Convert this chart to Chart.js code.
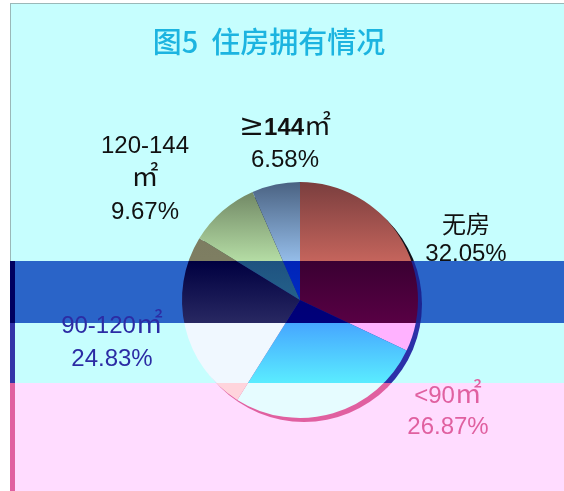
<!DOCTYPE html>
<html>
<head>
<meta charset="utf-8">
<script src="https://cdn.jsdelivr.net/npm/chart.js@4/dist/chart.umd.min.js"></script>
<style>
  html, body { margin: 0; padding: 0; background: #fff; }
  #wrap { width: 564px; height: 491px; }
</style>
</head>
<body>
<div id="wrap"><canvas id="c" width="564" height="491"></canvas></div>
<script>
// data
const titleText = '图5  住房拥有情况';
const categories = ['无房', '<90㎡', '90-120㎡', '120-144㎡', '≥144㎡'];
const shares = [32.05, 26.87, 24.83, 9.67, 6.58];

// label lines as printed (the 120-144 one wraps before the unit)
const labelLines = [
  ['无房', '32.05%'],
  ['<90㎡', '26.87%'],
  ['90-120㎡', '24.83%'],
  ['120-144', '㎡', '9.67%'],
  ['≥144㎡', '6.58%']
];

// horizontal colour bands of the frame (y edges) and their fills
const bandY = [4, 261, 323, 383, 491];
const bandFill = ['#c6fefe', '#2a64c8', '#c6fefe', '#ffdcff'];
const stripFill = ['#9ab8b8', '#000060', '#3434a8', '#e060a0'];
const shadowFill = ['#101018', '#1c2490', '#2c30a8', '#e060a0'];

// per-slice colour for each band, [top, bottom] of the band
const sliceFill = [
  [['#7a3e3e', '#c4645c'], ['#3a0032', '#580044'], ['#ffb2ff', '#ffb2ff'], ['#ffd0ff', '#ffd0ff']],
  [['#000070', '#000070'], ['#000070', '#00007a'], ['#46a6ff', '#5aecff'], ['#e6fcff', '#e6fcff']],
  [['#7a7a60', '#7e7e62'], ['#000040', '#282862'], ['#f0f8ff', '#f0f8ff'], ['#ffd4dc', '#ffd4dc']],
  [['#687c5c', '#b4dca4'], ['#1e5280', '#286a90'], ['#f0f8ff', '#f0f8ff'], ['#ffd4dc', '#ffd4dc']],
  [['#4a6282', '#94bce8'], ['#0024b8', '#0030c8'], ['#f0f8ff', '#f0f8ff'], ['#ffd4dc', '#ffd4dc']]
];

const labelColor = ['#111', '#e060a0', '#2c2ca4', '#111', '#111'];
// label centre x, first baseline y and line step
const labelAt = [[466, 233, 28], [448, 403, 31], [112, 333, 33], [145, 153, 33], [285, 135, 32]];

const H = 491;
const PIE_TOP = 182;

const FONT_NUM = '24px "Liberation Sans", Arial, "DejaVu Sans", sans-serif';
const FONT_NUM_B = 'bold 24px "Liberation Sans", Arial, "DejaVu Sans", sans-serif';
const FONT_CJK = '24px "Noto Sans CJK SC", sans-serif';
const FONT_UNIT = '27px "Noto Sans CJK SC", sans-serif';
const FONT_GE = '30px "DejaVu Serif", serif';

function bandGradient(ctx, cols) {
  const g = ctx.createLinearGradient(0, 0, 0, H);
  for (let i = 0; i < cols.length; i++) {
    const y0 = i === 0 ? PIE_TOP : bandY[i];
    const y1 = bandY[i + 1] - 0.3;
    g.addColorStop(Math.max(0, y0 / H), cols[i][0]);
    g.addColorStop(Math.min(1, y1 / H), cols[i][1]);
  }
  return g;
}

// split a label line into runs so the unit and ≥ signs get their own font
function runsOf(t) {
  const bold = t.startsWith('≥');
  return t.split(/(㎡|≥)/).filter(s => s).map(s => {
    let font = bold ? FONT_NUM_B : FONT_NUM;
    if (s === '㎡') font = FONT_UNIT;
    else if (s === '≥') font = FONT_GE;
    else if (/[\u4e00-\u9fff]/.test(s)) font = FONT_CJK;
    return { s, font };
  });
}

function drawLine(ctx, t, cx, y) {
  const runs = runsOf(t);
  let w = 0;
  runs.forEach(r => { ctx.font = r.font; r.w = ctx.measureText(r.s).width; w += r.w; });
  let x = cx - w / 2;
  runs.forEach(r => { ctx.font = r.font; ctx.fillText(r.s, x, y); x += r.w; });
}

const frame = {
  id: 'frame',
  beforeDraw(chart) {
    const ctx = chart.ctx;
    ctx.save();
    ctx.fillStyle = '#fff';
    ctx.fillRect(0, 0, chart.width, chart.height);
    for (let i = 0; i < bandFill.length; i++) {
      ctx.fillStyle = bandFill[i];
      ctx.fillRect(10, bandY[i], chart.width - 10, bandY[i + 1] - bandY[i]);
      ctx.fillStyle = stripFill[i];
      ctx.fillRect(10, bandY[i], i === 0 ? 1 : 5, bandY[i + 1] - bandY[i]);
    }
    ctx.fillStyle = '#9ab8b8';
    ctx.fillRect(10, 3, chart.width - 10, 1);
    ctx.restore();
  },
  beforeDatasetsDraw(chart) {
    const arc = chart.getDatasetMeta(0).data[0];
    if (!arc) return;
    const ctx = chart.ctx;
    ctx.save();
    ctx.beginPath();
    ctx.arc(arc.x + 4, arc.y + 4, arc.outerRadius, 0, Math.PI * 2);
    ctx.fillStyle = bandGradient(ctx, shadowFill.map(c => [c, c]));
    ctx.fill();
    ctx.restore();
  },
  afterDraw(chart) {
    const ctx = chart.ctx;
    ctx.save();
    ctx.textAlign = 'center';
    ctx.textBaseline = 'middle';
    ctx.fillStyle = '#1cb4e0';
    ctx.font = '500 29px "Noto Sans CJK SC", "Liberation Sans", sans-serif';
    ctx.fillText(titleText, 269, 42);
    ctx.textAlign = 'left';
    ctx.textBaseline = 'alphabetic';
    labelLines.forEach((lines, i) => {
      const [x, y, step] = labelAt[i];
      ctx.fillStyle = labelColor[i];
      lines.forEach((t, k) => drawLine(ctx, t, x, y + k * step));
    });
    ctx.restore();
  }
};

new Chart(document.getElementById('c'), {
  type: 'pie',
  data: {
    labels: categories,
    datasets: [{
      data: shares,
      borderWidth: 0,
      backgroundColor: (c) => bandGradient(c.chart.ctx, sliceFill[c.dataIndex])
    }]
  },
  options: {
    responsive: false,
    animation: false,
    devicePixelRatio: 1,
    layout: { padding: { left: 182, right: 146, top: 182, bottom: 73 } },
    plugins: {
      legend: { display: false },
      tooltip: { enabled: false }
    }
  },
  plugins: [frame]
});
</script>
</body>
</html>
